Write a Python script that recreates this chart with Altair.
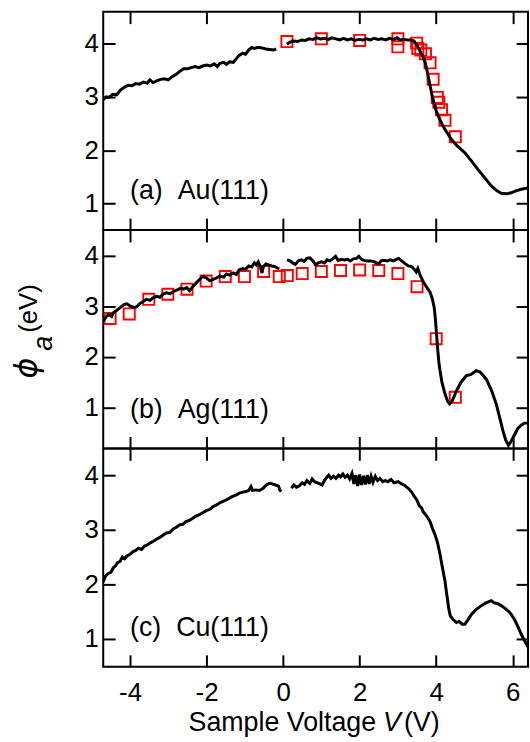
import altair as alt
import pandas as pd

# ---------------- data ----------------
x_ticks = [-4, -2, 0, 2, 4, 6]
y_ticks = [1, 2, 3, 4]
X_DOMAIN = [-4.7, 6.4]

# (a) Au(111)
au_x0 = [-4.70, -4.62, -4.55, -4.45, -4.35, -4.25, -4.15, -4.05, -3.95, -3.85, -3.75, -3.65, -3.55, -3.48, -3.40,
         -3.30, -3.20, -3.10, -3.00, -2.90, -2.80, -2.70, -2.60, -2.50, -2.40, -2.30, -2.20, -2.10, -2.00, -1.90,
         -1.80, -1.72, -1.65, -1.55, -1.48, -1.40, -1.30, -1.22, -1.15, -1.05, -0.98, -0.90, -0.82, -0.75, -0.65,
         -0.55, -0.45, -0.35, -0.25, -0.18]
au_y0 = [2.95, 3.00, 2.99, 3.05, 3.04, 3.13, 3.18, 3.22, 3.21, 3.25, 3.24, 3.28, 3.26, 3.32, 3.27,
         3.30, 3.33, 3.34, 3.32, 3.38, 3.42, 3.48, 3.53, 3.53, 3.55, 3.57, 3.55, 3.58, 3.60, 3.58,
         3.62, 3.57, 3.63, 3.65, 3.61, 3.66, 3.65, 3.72, 3.78, 3.82, 3.80, 3.88, 3.93, 3.91, 3.93,
         3.92, 3.90, 3.89, 3.88, 3.90]
au_x1 = [0.10, 0.18, 0.28, 0.38, 0.48, 0.58, 0.68, 0.78, 0.88, 0.98, 1.08, 1.18, 1.28, 1.38, 1.48, 1.58,
         1.68, 1.78, 1.88, 1.98, 2.08, 2.18, 2.28, 2.38, 2.48, 2.58, 2.68, 2.78, 2.88, 2.98, 3.05, 3.15,
         3.25, 3.35, 3.42, 3.50, 3.58, 3.65, 3.71, 3.76, 3.80, 3.85, 3.90, 3.95, 4.00, 4.07, 4.15, 4.23,
         4.32, 4.40, 4.55, 4.75, 4.92, 5.09, 5.27, 5.44, 5.58, 5.70, 5.83, 5.96, 6.10, 6.25, 6.40]
au_y1 = [3.99, 4.03, 4.05, 4.04, 4.07, 4.06, 4.09, 4.08, 4.11, 4.09, 4.10, 4.08, 4.11, 4.09, 4.07, 4.10,
         4.07, 4.09, 4.06, 4.08, 4.07, 4.09, 4.07, 4.10, 4.08, 4.09, 4.07, 4.10, 4.08, 4.11, 4.07, 4.08,
         4.07, 4.07, 4.05, 3.97, 3.86, 3.76, 3.65, 3.50, 3.36, 3.18, 3.00, 2.86, 2.74, 2.62, 2.49, 2.39,
         2.29, 2.20, 2.08, 1.95, 1.80, 1.64, 1.48, 1.33, 1.24, 1.19, 1.18, 1.20, 1.24, 1.27, 1.29]
au_sq_x = [0.10, 1.00, 2.00, 3.00, 3.00, 3.49, 3.52, 3.60, 3.72, 3.84, 3.92, 4.03, 4.07, 4.14, 4.23, 4.50]
au_sq_y = [4.04, 4.09, 4.06, 4.09, 3.94, 4.01, 3.91, 3.88, 3.81, 3.64, 3.33, 2.99, 2.90, 2.76, 2.56, 2.25]

# (b) Ag(111)
ag_x0 = [-4.70, -4.62, -4.55, -4.48, -4.43, -4.35, -4.25, -4.15, -4.08, -4.00, -3.90, -3.83, -3.75, -3.65,
         -3.57, -3.48, -3.40, -3.30, -3.22, -3.14, -3.05, -2.95, -2.85, -2.75, -2.68, -2.60, -2.52, -2.44,
         -2.35, -2.25, -2.15, -2.08, -2.00, -1.92, -1.84, -1.75, -1.65, -1.55, -1.48, -1.40, -1.30, -1.22,
         -1.15, -1.06, -0.98, -0.90, -0.82, -0.75, -0.70, -0.65, -0.60, -0.55, -0.52, -0.45, -0.38, -0.30,
         -0.22, -0.15, -0.10]
ag_y0 = [2.70, 2.80, 2.84, 2.80, 2.88, 2.92, 2.98, 3.04, 3.05, 3.01, 2.98, 2.99, 3.05, 3.10,
         3.14, 3.12, 3.17, 3.20, 3.18, 3.24, 3.27, 3.25, 3.30, 3.33, 3.36, 3.34, 3.37, 3.31,
         3.40, 3.48, 3.56, 3.59, 3.56, 3.51, 3.53, 3.56, 3.60, 3.58, 3.64, 3.62, 3.66, 3.63,
         3.72, 3.75, 3.73, 3.80, 3.78, 3.86, 3.82, 3.88, 3.80, 3.66, 3.78, 3.84, 3.82, 3.80,
         3.79, 3.76, 3.74]
ag_x1 = [0.10, 0.18, 0.25, 0.32, 0.40, 0.48, 0.55, 0.62, 0.70, 0.78, 0.85, 0.92, 1.00, 1.08, 1.15, 1.22,
         1.30, 1.37, 1.44, 1.52, 1.60, 1.68, 1.76, 1.84, 1.92, 1.98, 2.05, 2.12, 2.20, 2.28, 2.36, 2.44,
         2.50, 2.56, 2.64, 2.72, 2.80, 2.88, 2.96, 3.02, 3.10, 3.18, 3.27, 3.35, 3.42, 3.48, 3.52, 3.58,
         3.66, 3.75, 3.84, 3.90, 3.95, 3.98, 4.01, 4.04, 4.07, 4.10, 4.15, 4.23, 4.30, 4.35, 4.42, 4.53,
         4.65, 4.79, 4.90, 5.05, 5.15, 5.31, 5.45, 5.57, 5.66, 5.74, 5.82, 5.89, 5.95, 6.04, 6.13, 6.22,
         6.30, 6.40]
ag_y1 = [3.92, 3.90, 3.86, 3.83, 3.90, 3.92, 3.89, 3.95, 3.96, 3.90, 3.82, 3.86, 3.88, 3.86, 3.92, 3.90,
         3.94, 3.99, 3.91, 3.93, 3.92, 3.93, 3.90, 3.94, 3.95, 3.99, 3.93, 3.91, 3.90, 3.90, 3.89, 3.86,
         3.84, 3.90, 3.91, 3.90, 3.92, 3.90, 3.93, 3.95, 3.90, 3.85, 3.80, 3.79, 3.74, 3.68, 3.75, 3.62,
         3.49, 3.38, 3.28, 3.15, 2.97, 2.75, 2.45, 2.15, 1.90, 1.73, 1.50, 1.27, 1.12, 1.07, 1.13, 1.33,
         1.50, 1.63, 1.65, 1.73, 1.70, 1.56, 1.33, 1.07, 0.80, 0.55, 0.35, 0.25, 0.32, 0.45, 0.58, 0.65,
         0.69, 0.69]
ag_sq_x = [-4.52, -4.02, -3.51, -3.01, -2.51, -2.01, -1.51, -1.01, -0.51, -0.10, 0.11, 0.50, 1.00, 1.50,
           2.00, 2.50, 3.00, 3.50, 4.00, 4.50]
ag_sq_y = [2.76, 2.85, 3.14, 3.24, 3.34, 3.50, 3.59, 3.59, 3.69, 3.59, 3.61, 3.65, 3.69, 3.71,
           3.72, 3.71, 3.65, 3.39, 2.36, 1.20]

# (c) Cu(111)
cu_x0 = [-4.70, -4.64, -4.57, -4.50, -4.44, -4.38, -4.32, -4.26, -4.20, -4.14, -4.08, -4.00, -3.92, -3.85,
         -3.78, -3.70, -3.62, -3.55, -3.47, -3.39, -3.30, -3.22, -3.14, -3.05, -2.96, -2.88, -2.80, -2.70,
         -2.62, -2.54, -2.45, -2.36, -2.28, -2.20, -2.10, -2.01, -1.92, -1.84, -1.75, -1.66, -1.57, -1.48,
         -1.40, -1.32, -1.22, -1.14, -1.05, -0.97, -0.90, -0.84, -0.80, -0.71, -0.62, -0.52, -0.44, -0.36,
         -0.28, -0.20, -0.12, -0.08, -0.05]
cu_y0 = [2.05, 2.15, 2.20, 2.22, 2.30, 2.34, 2.40, 2.42, 2.50, 2.47, 2.52, 2.55, 2.60, 2.62,
         2.66, 2.64, 2.70, 2.72, 2.76, 2.79, 2.83, 2.86, 2.90, 2.94, 2.95, 3.01, 3.04, 3.09,
         3.10, 3.15, 3.17, 3.21, 3.25, 3.27, 3.31, 3.35, 3.37, 3.42, 3.45, 3.49, 3.52, 3.55,
         3.58, 3.61, 3.64, 3.67, 3.69, 3.70, 3.72, 3.79, 3.72, 3.73, 3.72, 3.76, 3.82, 3.85,
         3.84, 3.82, 3.80, 3.72, 3.70]
cu_x1 = [0.22, 0.28, 0.35, 0.42, 0.50, 0.56, 0.62, 0.70, 0.76, 0.82, 0.90, 0.96, 1.02, 1.08, 1.14, 1.19,
         1.25, 1.32, 1.38, 1.45, 1.50, 1.56, 1.62, 1.68, 1.74, 1.80, 1.85, 1.90, 1.95, 2.00, 2.05, 2.10,
         2.15, 2.20, 2.25, 2.30, 2.35, 2.41, 2.47, 2.53, 2.60, 2.67, 2.74, 2.82, 2.90, 3.01, 3.10, 3.18,
         3.27, 3.35, 3.42, 3.49, 3.56, 3.62, 3.66, 3.72, 3.78, 3.84, 3.90, 3.97, 4.04, 4.10, 4.16, 4.23,
         4.28, 4.33, 4.37, 4.45, 4.53, 4.60, 4.68, 4.75, 4.83, 4.92, 5.05, 5.18, 5.30, 5.44, 5.52, 5.60,
         5.70, 5.80, 5.90, 5.96, 6.05, 6.14, 6.22, 6.30, 6.40]
cu_y1 = [3.76, 3.82, 3.78, 3.80, 3.86, 3.83, 3.90, 3.85, 3.93, 3.88, 3.86, 3.84, 3.82, 3.90, 3.96, 4.00,
         3.94, 3.98, 3.94, 4.00, 3.97, 4.02, 3.96, 4.00, 3.93, 4.03, 3.84, 4.00, 3.80, 4.01, 3.82, 3.99,
         3.83, 4.00, 3.84, 3.98, 3.87, 3.98, 3.90, 3.94, 3.88, 3.90, 3.88, 3.92, 3.86, 3.88, 3.84, 3.81,
         3.76, 3.70, 3.62, 3.55, 3.44, 3.40, 3.33, 3.28, 3.22, 3.15, 3.03, 2.91, 2.75, 2.55, 2.32, 2.06,
         1.80, 1.55, 1.42, 1.35, 1.30, 1.32, 1.27, 1.27, 1.35, 1.45, 1.54, 1.61, 1.66, 1.70, 1.66, 1.65,
         1.61, 1.56, 1.50, 1.45, 1.35, 1.22, 1.09, 0.98, 0.85]

panel_labels = ["(a)\u00a0\u00a0Au(111)", "(b)\u00a0\u00a0Ag(111)", "(c)\u00a0\u00a0Cu(111)"]

FONT = "Liberation Sans"
TICK_FS = 26


def line_frame(x0, y0, x1, y1):
    return pd.DataFrame({
        "x": list(x0) + list(x1),
        "y": list(y0) + list(y1),
        "seg": [0] * len(x0) + [1] * len(x1),
    })


def panel(ldf, sqdf, ydomain, label, bottom_labels, extra_layers=()):
    xs = alt.Scale(domain=X_DOMAIN, nice=False, zero=False)
    ys = alt.Scale(domain=ydomain, nice=False, zero=False)
    x_bottom = alt.X("x:Q", scale=xs, axis=alt.Axis(
        orient="bottom", values=x_ticks, offset=-12, tickSize=12, domain=False, title=None, grid=False,
        tickColor="black", tickWidth=2, labels=bottom_labels, labelExpr="datum.value + ''",
        labelPadding=13, labelFont=FONT, labelFontSize=TICK_FS, labelColor="black"))
    y_left = alt.Y("y:Q", scale=ys, axis=alt.Axis(
        orient="left", values=y_ticks, offset=-12, tickSize=12, domain=False, title=None, grid=False,
        tickColor="black", tickWidth=2, labelPadding=5, labelFont=FONT, labelFontSize=TICK_FS,
        labelColor="black"))
    x_top = alt.X("x:Q", scale=xs, axis=alt.Axis(
        orient="top", values=x_ticks, offset=-12, tickSize=12, domain=False, title=None, grid=False,
        tickColor="black", tickWidth=2, labels=False))
    y_right = alt.Y("y:Q", scale=ys, axis=alt.Axis(
        orient="right", values=y_ticks, offset=-12, tickSize=12, domain=False, title=None, grid=False,
        tickColor="black", tickWidth=2, labels=False))

    if sqdf is not None:
        top_layer = alt.Chart(sqdf).mark_point(
            shape="square", size=125, color="#ff0000", strokeWidth=1.9, filled=False, opacity=1, clip=True
        ).encode(x=x_top, y=y_right)
    else:
        top_layer = alt.Chart(ldf).mark_line(opacity=0, clip=True).encode(
            x=x_top, y=y_right, detail="seg:N")

    line = alt.Chart(ldf).mark_line(color="black", strokeWidth=3, clip=True).encode(
        x=x_bottom, y=y_left, detail="seg:N")

    lab = alt.Chart(pd.DataFrame({"t": [label]})).mark_text(
        align="left", baseline="alphabetic", font=FONT, fontSize=27, color="black"
    ).encode(x=alt.value(27), y=alt.value(189), text="t:N")

    layers = [top_layer, line, lab] + list(extra_layers)
    return alt.layer(*layers).resolve_axis(x="independent", y="independent").properties(
        width=428, height=220)


one = pd.DataFrame({"k": [0]})

# y-axis title (in panel b coordinates)
ytitle = [
    alt.Chart(one).mark_text(font="DejaVu Sans", fontStyle="italic", fontSize=32, angle=270,
                             align="center", baseline="middle", color="black")
    .encode(x=alt.value(-77), y=alt.value(139), text=alt.value("\u03d5")),
    alt.Chart(one).mark_text(font=FONT, fontStyle="italic", fontSize=27, angle=270,
                             align="center", baseline="middle", color="black")
    .encode(x=alt.value(-60), y=alt.value(114), text=alt.value("a")),
    alt.Chart(one).mark_text(font=FONT, fontSize=26, angle=270,
                             align="center", baseline="middle", color="black")
    .encode(x=alt.value(-75), y=alt.value(79), text=alt.value("(eV)")),
    # invisible anchor fixing the left edge of the layout
    alt.Chart(one).mark_rule(strokeOpacity=0, strokeWidth=0.01)
    .encode(x=alt.value(-103), y=alt.value(0), y2=alt.value(2)),
]

# x-axis title (in panel c coordinates)
xtitle = [
    alt.Chart(one).mark_text(font=FONT, fontSize=27, align="right", baseline="alphabetic", color="black")
    .encode(x=alt.value(275), y=alt.value(285), text=alt.value("Sample Voltage")),
    alt.Chart(one).mark_text(font=FONT, fontStyle="italic", fontSize=27, align="center",
                             baseline="alphabetic", color="black")
    .encode(x=alt.value(291), y=alt.value(285), text=alt.value("V")),
    alt.Chart(one).mark_text(font=FONT, fontSize=27, align="left", baseline="alphabetic", color="black")
    .encode(x=alt.value(303), y=alt.value(285), text=alt.value("(V)")),
]

pa = panel(line_frame(au_x0, au_y0, au_x1, au_y1),
           pd.DataFrame({"x": au_sq_x, "y": au_sq_y}), [0.5, 4.6], panel_labels[0], False)
pb = panel(line_frame(ag_x0, ag_y0, ag_x1, ag_y1),
           pd.DataFrame({"x": ag_sq_x, "y": ag_sq_y}), [0.19, 4.51], panel_labels[1], False, ytitle)
pc = panel(line_frame(cu_x0, cu_y0, cu_x1, cu_y1), None, [0.49, 4.49], panel_labels[2], True, xtitle)

chart = alt.vconcat(pa, pb, pc, spacing=0).properties(
    bounds="flush",
    padding={"left": 0, "top": 7, "right": 0, "bottom": 0},
    background="white",
).configure_view(stroke="black", strokeWidth=2)

chart.save("out.html", embed_options={"renderer": "svg", "actions": False})
